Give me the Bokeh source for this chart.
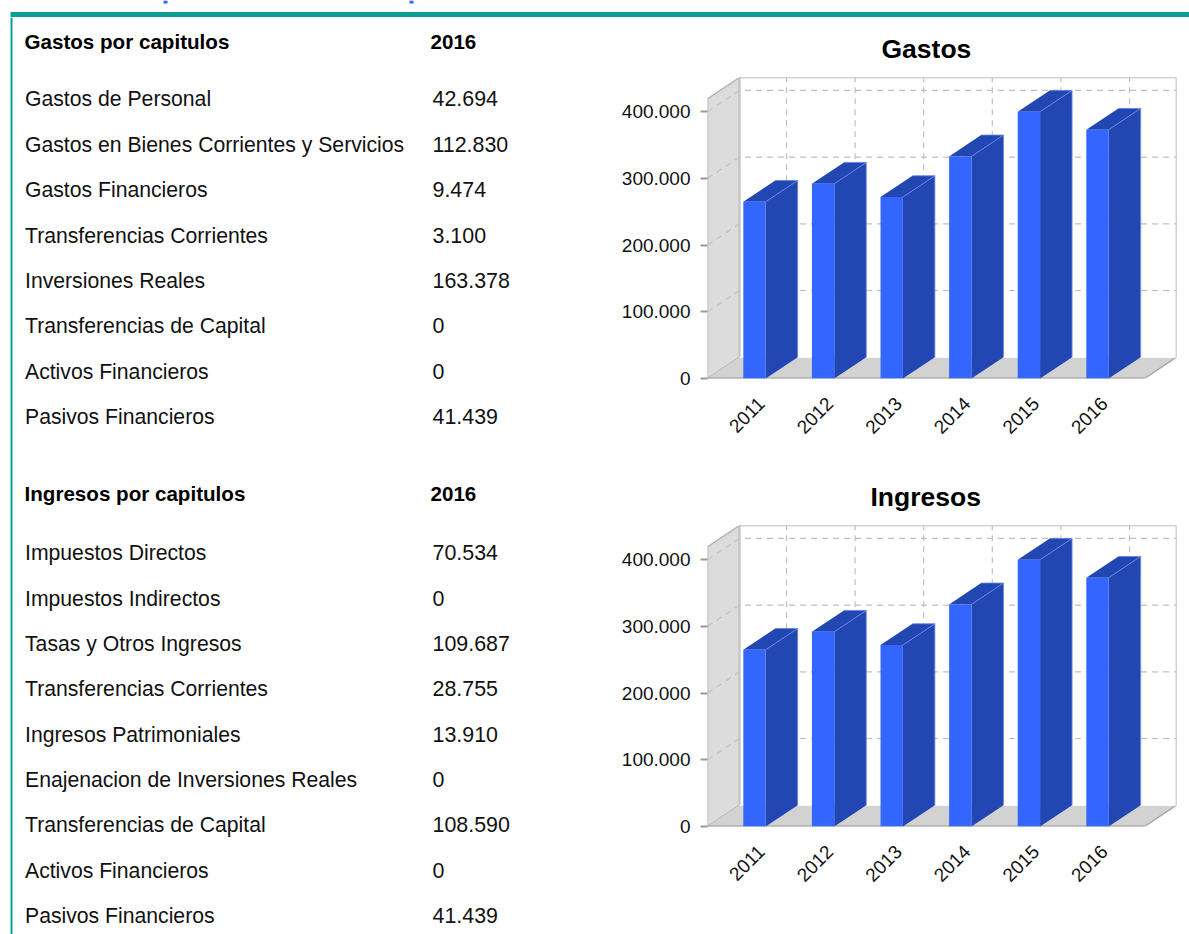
import math
from bokeh.plotting import figure
from bokeh.layouts import column, row
from bokeh.models import Range1d, FixedTicker, ColumnDataSource, Title
from bokeh.core.properties import value
from bokeh.embed import file_html
from bokeh.resources import INLINE

years = ["2011", "2012", "2013", "2014", "2015", "2016"]
gastos_chart = [265000, 292000, 272000, 333000, 400000, 373000]
ingresos_chart = [265000, 292000, 272000, 333000, 400000, 373000]
y_ticks = [0, 100000, 200000, 300000, 400000]
y_labels = ["0", "100.000", "200.000", "300.000", "400.000"]

gastos_head = ["Gastos por capitulos", "2016"]
gastos_rows = ["Gastos de Personal", "Gastos en Bienes Corrientes y Servicios", "Gastos Financieros",
               "Transferencias Corrientes", "Inversiones Reales", "Transferencias de Capital",
               "Activos Financieros", "Pasivos Financieros"]
gastos_vals = ["42.694", "112.830", "9.474", "3.100", "163.378", "0", "0", "41.439"]
ingresos_head = ["Ingresos por capitulos", "2016"]
ingresos_rows = ["Impuestos Directos", "Impuestos Indirectos", "Tasas y Otros Ingresos",
                 "Transferencias Corrientes", "Ingresos Patrimoniales", "Enajenacion de Inversiones Reales",
                 "Transferencias de Capital", "Activos Financieros", "Pasivos Financieros"]
ingresos_vals = ["70.534", "0", "109.687", "28.755", "13.910", "0", "108.590", "0", "41.439"]

FONT = "Liberation Sans"
TEAL = "#0b9e97"
TXT = "#111111"

# top rule, with the cut-off blue heading descenders above it
strip = figure(width=1189, height=17, x_range=(0, 1189), y_range=(17, 0), toolbar_location=None,
               output_backend="svg", min_border=0, outline_line_color=None)
strip.axis.visible = False
strip.grid.visible = False
strip.quad(left=[10], right=[1189], top=[11.5], bottom=[16.5], fill_color=TEAL, line_color=None)
strip.quad(left=[163, 409], right=[167, 413], top=[0, 0], bottom=[3, 3], fill_color="#3366ff", line_color=None)

# table panel
tab = figure(width=600, height=917, x_range=(0, 600), y_range=(934, 17), toolbar_location=None,
             output_backend="svg", min_border=0, outline_line_color=None)
tab.axis.visible = False
tab.grid.visible = False
tab.quad(left=[10], right=[12], top=[17], bottom=[934], fill_color=TEAL, line_color=None)


def table(head, rows, vals, y_head, y0, step):
    tab.text(x=[24, 430], y=[y_head, y_head], text=head, text_font=value(FONT), text_font_size="20.6px",
             text_font_style="bold", text_baseline="middle", text_color="#000000")
    ys = [y0 + i * step for i in range(len(rows))]
    tab.text(x=[24.5] * len(rows), y=ys, text=rows, text_font=value(FONT), text_font_size="21.2px",
             text_baseline="middle", text_color=TXT)
    tab.text(x=[432] * len(vals), y=ys, text=vals, text_font=value(FONT), text_font_size="21.4px",
             text_baseline="middle", text_color=TXT)


table(gastos_head, gastos_rows, gastos_vals, 41, 98.3, 45.4)
table(ingresos_head, ingresos_rows, ingresos_vals, 493, 552.3, 45.35)

DX = 0.4665
DY = 31900
HALF = 0.163
X0, X1 = -0.685, 5.685
TOPV = 451275
LABEL_SHIFT = 0.1


def chart(title, vals, border_top, border_bottom, title_offset):
    h = border_top + 301 + border_bottom
    p = figure(width=589, height=h, x_range=Range1d(X0, X1 + DX), y_range=Range1d(0, TOPV),
               toolbar_location=None, output_backend="svg", min_border_left=107, min_border_right=13,
               min_border_top=border_top, min_border_bottom=border_bottom, outline_line_color=None)
    p.grid.visible = False
    # walls
    wall_top = TOPV - DY
    p.patch([X0, X0 + DX, X0 + DX, X0], [0, DY, TOPV, wall_top], fill_color="#dcdcdc", line_color="#b4b4b4", line_width=1.5)
    p.patch([X0, X1, X1 + DX, X0 + DX], [0, 0, DY, DY], fill_color="#d2d2d2", line_color=None)
    p.line([X0, X1], [0, 0], line_color="#999999", line_width=2)
    p.line([X1, X1 + DX, X1 + DX, X0 + DX], [0, DY, TOPV, TOPV], line_color="#a8a8a8", line_width=1.5)
    p.line([X0 + DX, X0 + DX], [DY, TOPV], line_color="#c4c4c4", line_width=2)
    p.line([X0 + DX, X1 + DX], [DY, DY], line_color="#ffffff", line_width=1)
    # gridlines
    for t in y_ticks[1:]:
        p.line([X0, X0 + DX, X1 + DX], [t, t + DY, t + DY], line_color="#c0c0c0", line_width=1.2, line_dash="6 5")
    for i in range(len(years)):
        p.line([i + DX, i + DX], [DY, TOPV], line_color="#c0c0c0", line_width=1.2, line_dash="6 5")
    # bars
    xs = list(range(len(vals)))
    src = ColumnDataSource(dict(l=[x - HALF for x in xs], r=[x + HALF for x in xs], t=vals))
    side_x = [[x + HALF, x + HALF + DX, x + HALF + DX, x + HALF] for x in xs]
    side_y = [[0, DY, v + DY, v] for v in vals]
    top_x = [[x - HALF, x - HALF + DX, x + HALF + DX, x + HALF] for x in xs]
    top_y = [[v, v + DY, v + DY, v] for v in vals]
    p.patches(side_x, side_y, fill_color="#2247b3", line_color=None)
    p.patches(top_x, top_y, fill_color="#2247b3", line_color=None)
    p.multi_line([[x + HALF, x + HALF + DX, x + HALF + DX] for x in xs], [[v, v + DY, DY] for v in vals],
                 line_color="#6f8ae6", line_width=0.8)
    p.multi_line([[x - HALF + DX, x + HALF + DX] for x in xs], [[v + DY, v + DY] for v in vals],
                 line_color="#5f7fe0", line_width=0.8)
    p.quad(left="l", right="r", top="t", bottom=0, source=src, fill_color="#3366ff", line_color=None)
    # axes
    ya = p.yaxis[0]
    ya.ticker = FixedTicker(ticks=y_ticks)
    ya.major_label_overrides = dict(zip(y_ticks, y_labels))
    ya.axis_line_color = None
    ya.major_tick_in = 0
    ya.major_tick_out = 7
    ya.major_tick_line_color = "#999999"
    ya.major_tick_line_width = 2
    ya.minor_tick_line_color = None
    ya.major_label_standoff = 10
    ya.major_label_text_font = FONT
    ya.major_label_text_font_size = "19px"
    ya.major_label_text_color = TXT
    xa = p.xaxis[0]
    tick_pos = [x + LABEL_SHIFT for x in xs]
    xa.ticker = FixedTicker(ticks=tick_pos)
    xa.major_label_overrides = dict(zip(tick_pos, years))
    xa.axis_line_color = None
    xa.major_tick_line_color = None
    xa.minor_tick_line_color = None
    xa.major_label_orientation = math.pi / 4
    xa.major_label_standoff = 16
    xa.major_label_text_font = FONT
    xa.major_label_text_font_size = "19px"
    xa.major_label_text_color = TXT
    t = Title(text=title, align="left", offset=title_offset, text_font=FONT,
              text_font_size="26.5px", text_font_style="bold", text_color="#000000", standoff=28)
    p.add_layout(t, "above")
    return p


c1 = chart("Gastos", gastos_chart, 60, 72, 174)
c2 = chart("Ingresos", ingresos_chart, 75, 108, 163)
right = column(c1, c2, spacing=0)
page = column(strip, row(tab, right, spacing=0), spacing=0)
open("out.html", "w").write(file_html(page, INLINE))
